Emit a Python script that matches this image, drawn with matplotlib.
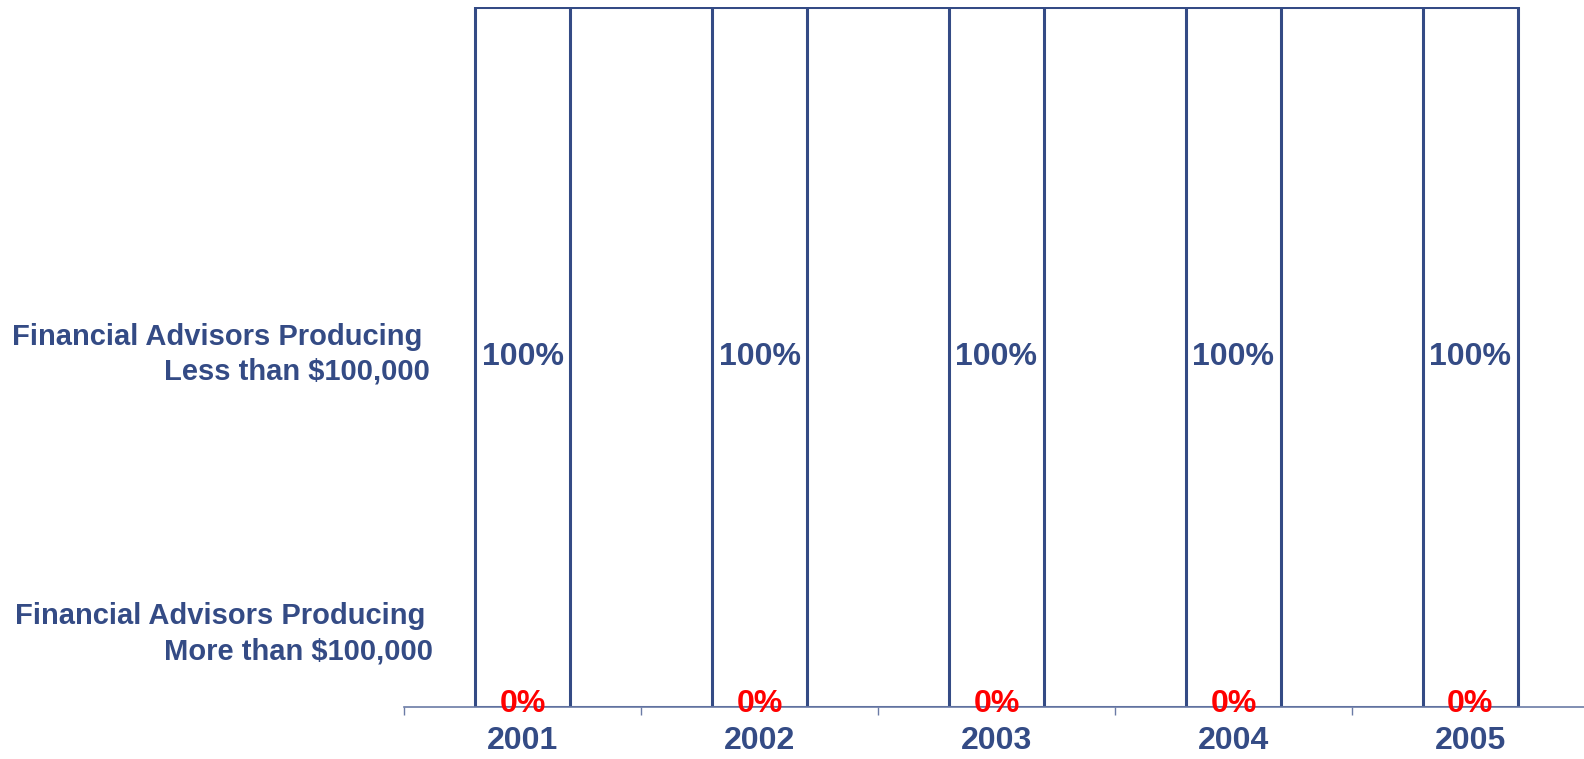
import matplotlib.pyplot as plt
import numpy as np

years = ['2001', '2002', '2003', '2004', '2005']
less_than_100k = [100, 100, 100, 100, 100]
more_than_100k = [0, 0, 0, 0, 0]

navy = '#344b85'
red = '#ff0000'

plt.rcParams['font.family'] = ['Liberation Sans', 'DejaVu Sans']
plt.rcParams['font.weight'] = 'bold'

fig = plt.figure(figsize=(15.84, 7.59), dpi=100)
ax = fig.add_axes([0.2551, 0.0685, 0.748, 0.9223])

x = np.arange(len(years))
w = 0.40
more = np.array(more_than_100k)
less = np.array(less_than_100k)

ax.bar(x, more, w, color='white', edgecolor=navy, linewidth=2.2)
ax.bar(x, less, w, bottom=more, color='white', edgecolor=navy, linewidth=2.2)

# series lines between the bars
for i in range(len(x) - 1):
    for level in (more, more + less):
        ax.plot([x[i] + w / 2, x[i + 1] - w / 2], [level[i], level[i + 1]],
                color=navy, lw=2.2, solid_capstyle='butt')

for i in range(len(x)):
    ax.text(x[i], more[i] + less[i] / 2, f'{less[i]}%', ha='center', va='center',
            color=navy, fontsize=23, fontweight='bold')
    ax.annotate(f'{more[i]}%', (x[i], more[i] / 2), xytext=(0, 2.5), textcoords='offset points',
                ha='center', va='center', color=red, fontsize=23, fontweight='bold')

ax.set_xlim(-0.5, len(x) - 0.5)
ax.set_ylim(0, 100)
for s in ('top', 'right', 'left'):
    ax.spines[s].set_visible(False)
ax.spines['bottom'].set_color('#6b7ba6')
ax.spines['bottom'].set_linewidth(1.2)
ax.set_yticks([])
ax.set_xticks(np.arange(len(x) + 1) - 0.5)
ax.set_xticklabels([])
ax.tick_params(axis='x', which='major', length=6, width=1, color='#6b7ba6')
ax.set_xticks(x, minor=True)
ax.set_xticklabels(years, minor=True)
ax.tick_params(axis='x', which='minor', length=0, pad=14, labelsize=23, labelcolor=navy)
for t in ax.get_xticklabels(minor=True):
    t.set_fontweight('bold')

fig.text(0.2715, 0.533, 'Financial Advisors Producing \nLess than $100,000', ha='right',
         va='center', multialignment='right', color=navy, fontsize=21, fontweight='bold',
         linespacing=1.3)
fig.text(0.2735, 0.165, 'Financial Advisors Producing \nMore than $100,000', ha='right',
         va='center', multialignment='right', color=navy, fontsize=21, fontweight='bold',
         linespacing=1.3)

fig.savefig('out.png', dpi=100)
